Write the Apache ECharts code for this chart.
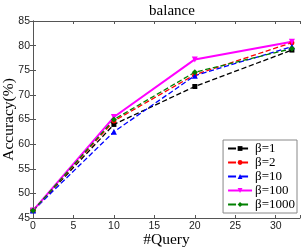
<!DOCTYPE html>
<html><head><meta charset="utf-8">
<script src="https://cdn.jsdelivr.net/npm/echarts@6/dist/echarts.min.js"></script>
<style>html,body{margin:0;padding:0;background:#fff}#c{width:303px;height:249px}</style>
</head><body><div id="c"></div>
<script>
var queries = [0, 10, 20, 32];
var beta1 = [46.5, 64.0, 71.7, 79.1];
var beta2 = [46.5, 64.7, 74.1, 80.6];
var beta10 = [46.5, 62.5, 73.9, 79.8];
var beta100 = [46.5, 65.5, 77.2, 80.8];
var beta1000 = [46.5, 65.0, 74.6, 79.4];
var seriesNames = ['β=1', 'β=2', 'β=10', 'β=100', 'β=1000'];
var xTicks = [0, 5, 10, 15, 20, 25, 30];
var yTicks = [45, 50, 55, 60, 65, 70, 75, 80, 85];

function pts(v){ return queries.map(function(q,i){ return [q, v[i]]; }); }
var serif = '"Liberation Serif", "DejaVu Serif", serif';
var sans = '"Liberation Sans", Arial, sans-serif';
var axisCol = '#555';
function mk(name, vals, color, symbol, type, width, size, rot){
  return {name:name, type:'line', data:pts(vals), symbol:symbol, symbolSize:size, symbolRotate:rot||0,
    lineStyle:{color:color, width:width, type:type}, itemStyle:{color:color}, animation:false};
}
var tickFmtX = function(v){return xTicks.indexOf(v)>=0? String(v):'';};
var tickFmtY = function(v){return yTicks.indexOf(v)>=0? String(v):'';};
var chart = echarts.init(document.getElementById('c'));
chart.setOption({
  animation:false,
  title:{text:'balance', left:167, textAlign:'center', top:-1, textStyle:{fontFamily:serif, fontWeight:'normal', fontSize:15, color:'#000'}},
  grid:{left:33, right:3, top:21, bottom:31, containLabel:false, outerBoundsMode:'none'},
  xAxis:[{type:'value', min:0, max:33, interval:5, name:'#Query', nameLocation:'middle', nameGap:14, nameMoveOverlap:false,
    nameTextStyle:{fontFamily:serif, fontSize:15.5, color:'#000'},
    axisLine:{lineStyle:{color:axisCol}}, axisTick:{inside:true, length:3, lineStyle:{color:axisCol}},
    axisLabel:{fontFamily:sans, fontSize:10.5, color:'#222', margin:3, formatter:tickFmtX},
    splitLine:{show:false}},
    {type:'value', min:0, max:33, interval:5, position:'top', axisLine:{show:true, lineStyle:{color:axisCol}}, axisTick:{inside:true, length:3, lineStyle:{color:axisCol}}, axisLabel:{show:false}, splitLine:{show:false}}],
  yAxis:[{type:'value', min:45, max:85, interval:5, name:'Accuracy(%)', nameLocation:'middle', nameGap:16, nameMoveOverlap:false,
    nameTextStyle:{fontFamily:serif, fontSize:15.5, color:'#000'},
    axisLine:{lineStyle:{color:axisCol}}, axisTick:{inside:true, length:3, lineStyle:{color:axisCol}},
    axisLabel:{fontFamily:sans, fontSize:10.5, color:'#222', margin:3, formatter:tickFmtY},
    splitLine:{show:false}},
    {type:'value', min:45, max:85, interval:5, position:'right', axisLine:{show:true, lineStyle:{color:axisCol}}, axisTick:{inside:true, length:3, lineStyle:{color:axisCol}}, axisLabel:{show:false}, splitLine:{show:false}}],
  legend:{orient:'vertical', right:6, bottom:36, itemWidth:24, itemHeight:6, itemGap:1,
    padding:[2,2,2,4], borderColor:'#888', borderWidth:1, backgroundColor:'#fff',
    textStyle:{fontFamily:serif, fontSize:13, lineHeight:12.5, color:'#000', padding:[0,0,0,-2]}, data:seriesNames},
  series:[
    mk(seriesNames[0], beta1, '#000000', 'rect', 'dashed', 1.3, 5),
    mk(seriesNames[1], beta2, '#ff0000', 'circle', 'dashed', 1.3, 5),
    mk(seriesNames[2], beta10, '#0000ff', 'triangle', 'dashed', 1.3, 6),
    mk(seriesNames[3], beta100, '#ff00ff', 'triangle', 'solid', 2, 6, 180),
    mk(seriesNames[4], beta1000, '#008000', 'diamond', 'dashed', 1.3, 6)
  ]
});
</script></body></html>
